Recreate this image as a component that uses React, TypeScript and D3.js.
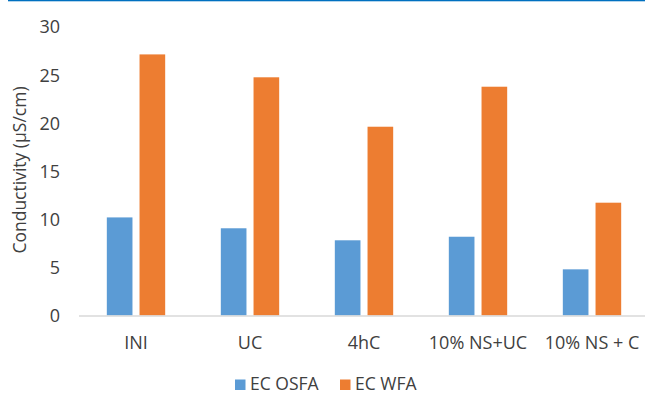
import React from "react";
import * as d3 from "d3";

const categories = ["INI", "UC", "4hC", "10% NS+UC", "10% NS + C"];
const ecOsfa = [10.2, 9.07, 7.82, 8.19, 4.8];
const ecWfa = [27.15, 24.77, 19.63, 23.79, 11.73];
const seriesNames = ["EC OSFA", "EC WFA"];
const yTicks = [0, 5, 10, 15, 20, 25, 30];

const W = 645;
const H = 395;
const FONT = "'Open Sans', sans-serif";
const FS = 18;
const TEXT = "#404040";
const COLORS = ["#5b9bd5", "#ed7d31"];

export default function App() {
  const x = d3.scaleBand<string>().domain(categories).range([79, 649]).paddingInner(0).paddingOuter(0);
  const y = d3.scaleLinear().domain([0, 30]).range([315.5, 27]);
  const step = x.step();
  const barW = step * 0.225;
  const gap = step * 0.062;
  const series = [ecOsfa, ecWfa];
  const legendX = [235, 340];

  return (
    <svg
      width={W}
      height={H}
      style={{ position: "absolute", left: 0, top: 0, background: "#fff" }}
    >
      <rect x={8} y={0} width={W - 8} height={1.3} fill="#0070c0" />
      {yTicks.map((t) => (
        <text
          key={t}
          x={60}
          y={y(t)}
          dy="0.36em"
          textAnchor="end"
          fontFamily={FONT}
          fontSize={FS}
          fill={TEXT}
        >
          {t}
        </text>
      ))}
      <text
        transform={`translate(20,${170}) rotate(-90)`}
        textAnchor="middle"
        dy="0.36em"
        fontFamily={FONT}
        fontSize={17.5}
        fill={TEXT}
      >
        Conductivity (µS/cm)
      </text>
      {categories.map((c, i) => {
        const cx = (x(c) as number) + step / 2;
        return (
          <g key={c}>
            {series.map((s, k) => {
              const bx = k === 0 ? cx - gap / 2 - barW : cx + gap / 2;
              return (
                <rect
                  key={k}
                  x={bx}
                  y={y(s[i])}
                  width={barW}
                  height={y(0) - y(s[i])}
                  fill={COLORS[k]}
                />
              );
            })}
            <text
              x={cx}
              y={349.3}
              textAnchor="middle"
              fontFamily={FONT}
              fontSize={FS}
              fill={TEXT}
            >
              {c}
            </text>
          </g>
        );
      })}
      <line x1={79} x2={W} y1={y(0) + 0.5} y2={y(0) + 0.5} stroke="#d9d9d9" strokeWidth={1.5} />
      {seriesNames.map((n, k) => (
        <g key={n}>
          <rect x={legendX[k]} y={379.5} width={10.5} height={10.5} fill={COLORS[k]} />
          <text x={legendX[k] + 15} y={390.2} fontFamily={FONT} fontSize={17.5} fill={TEXT}>
            {n}
          </text>
        </g>
      ))}
    </svg>
  );
}
